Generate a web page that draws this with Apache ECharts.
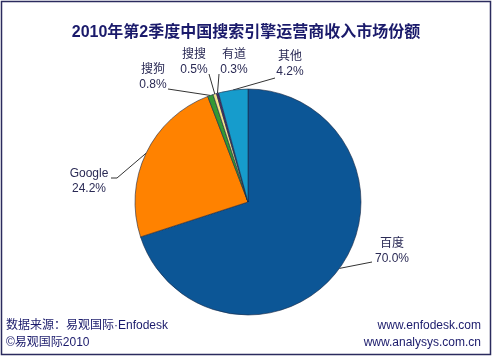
<!DOCTYPE html>
<html><head><meta charset="utf-8">
<script src="https://cdn.jsdelivr.net/npm/echarts@6/dist/echarts.min.js"></script>
<style>html,body{margin:0;padding:0;background:#fff}#c{width:492px;height:356px}</style>
</head><body><div id="c"></div>
<script>
const categories = ['百度', 'Google', '搜狗', '搜搜', '有道', '其他'];
const values = [70.0, 24.2, 0.8, 0.5, 0.3, 4.2];
const colors = ['#0c5696', '#ff8200', '#339933', '#f2e38a', '#4b2a66', '#169ccc'];
const FONT = 'Arial, "Liberation Sans", "Noto Sans CJK SC", sans-serif';
// label centre and leader-line end (near the label), plus optional elbow
const labelPos = [
  {x: 392, y: 251, end: [372, 262]},
  {x: 89, y: 181, elbow: [117, 178], end: [111, 178]},
  {x: 153, y: 77, end: [168, 89]},
  {x: 194, y: 62, end: [209, 74]},
  {x: 234, y: 62, end: [219, 74]},
  {x: 290, y: 64, end: [275, 78]}
];
const chart = echarts.init(document.getElementById('c'));
chart.setOption({
  animation: false,
  title: {
    text: '2010年第2季度中国搜索引擎运营商收入市场份额',
    left: 'center', top: 20,
    textStyle: {fontFamily: FONT, fontSize: 16, fontWeight: 'bold', color: '#1a1a6b'}
  },
  graphic: [
    {type: 'rect', shape: {x: 1.5, y: 1.5, width: 489, height: 353}, style: {fill: 'none', stroke: '#2b2b5e', lineWidth: 1.5}, silent: true},
    {type: 'text', left: 6, top: 320, style: {text: '数据来源：易观国际·Enfodesk', font: '12px ' + FONT, fill: '#1a1a6b'}},
    {type: 'text', left: 6, top: 337, style: {text: '©易观国际2010', font: '12px ' + FONT, fill: '#1a1a6b'}},
    {type: 'text', right: 11, top: 320, style: {text: 'www.enfodesk.com', font: '12px ' + FONT, fill: '#1a1a6b', align: 'right'}},
    {type: 'text', right: 11, top: 337, style: {text: 'www.analysys.com.cn', font: '12px ' + FONT, fill: '#1a1a6b', align: 'right'}}
  ],
  series: [{
    type: 'pie',
    center: [248, 202],
    radius: 113,
    startAngle: 90,
    clockwise: true,
    avoidLabelOverlap: false,
    data: categories.map((n, i) => ({name: n, value: values[i], itemStyle: {color: colors[i]}})),
    itemStyle: {borderColor: '#1c2a44', borderWidth: 0.6},
    label: {
      formatter: p => p.name + '\n' + p.value.toFixed(1) + '%',
      fontFamily: FONT, fontSize: 12, color: '#2a2a55', lineHeight: 15, align: 'center'
    },
    labelLine: {show: true, length: 15, length2: 20, lineStyle: {color: '#333', width: 1}},
    labelLayout: p => {
      const c = labelPos[p.dataIndex];
      const start = p.labelLinePoints ? p.labelLinePoints[0] : c.end;
      const pts = c.elbow ? [start, c.elbow, c.end] : [start, c.end];
      return {x: c.x, y: c.y, align: 'center', verticalAlign: 'middle', labelLinePoints: pts};
    }
  }]
});
</script></body></html>
